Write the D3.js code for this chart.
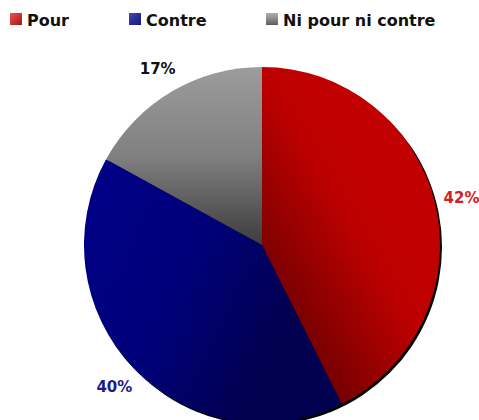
<!DOCTYPE html>
<meta charset="utf-8">
<script src="https://d3js.org/d3.v7.min.js"></script>
<style>
  body { margin: 0; background: #fff; }
  text { font-family: "DejaVu Sans", Verdana, sans-serif; font-weight: bold; }
</style>
<svg id="chart" width="479" height="420"></svg>
<script>
// data
const categories = ["Pour", "Contre", "Ni pour ni contre"];
const values = [42.6, 40.4, 17.0];
const labels = ["42%", "40%", "17%"];
const labelColors = ["#d42020", "#1c1c8a", "#111111"];

const svg = d3.select("#chart"),
  cx = 262, cy = 245, radius = 178;

const defs = svg.append("defs");

// gradients: light -> dark
const grads = [
  { id: "gPour", x1: "90%", y1: "10%", x2: "20%", y2: "90%", stops: ["#c80000", "#c00000", "#6a0000"] },
  { id: "gContre", x1: "0%", y1: "20%", x2: "80%", y2: "60%", stops: ["#000088", "#00007c", "#000050"] },
  { id: "gNi", x1: "0%", y1: "0%", x2: "0%", y2: "100%", stops: ["#9c9c9c", "#808080", "#3c3c3c"] },
  // legend swatches
  { id: "sPour", x1: "0%", y1: "0%", x2: "100%", y2: "100%", stops: ["#e05a5a", "#cc3333", "#a01818"] },
  { id: "sContre", x1: "0%", y1: "0%", x2: "100%", y2: "100%", stops: ["#4a4ab0", "#2c2c98", "#1a1a78"] },
  { id: "sNi", x1: "0%", y1: "0%", x2: "0%", y2: "100%", stops: ["#b0b0b0", "#8a8a8a", "#5a5a5a"] }
];
grads.forEach(g => {
  const lg = defs.append("linearGradient").attr("id", g.id)
    .attr("x1", g.x1).attr("y1", g.y1).attr("x2", g.x2).attr("y2", g.y2);
  g.stops.forEach((c, i) => lg.append("stop").attr("offset", (i * 50) + "%").attr("stop-color", c));
});

// fine diagonal hatching
const pat = defs.append("pattern").attr("id", "hatch")
  .attr("width", 4).attr("height", 4).attr("patternUnits", "userSpaceOnUse")
  .attr("patternTransform", "rotate(-30)");
pat.append("line").attr("x1", 0).attr("y1", 0).attr("x2", 0).attr("y2", 4)
  .attr("stroke", "#000").attr("stroke-width", 1).attr("stroke-opacity", 0.12);

const fills = ["url(#gPour)", "url(#gContre)", "url(#gNi)"];
const swatches = ["url(#sPour)", "url(#sContre)", "url(#sNi)"];
const hatched = [true, true, false];

// legend
const legendX = [10, 129, 266];
const legend = svg.append("g");
categories.forEach((c, i) => {
  legend.append("rect").attr("x", legendX[i]).attr("y", 13)
    .attr("width", 12).attr("height", 12).attr("fill", swatches[i]);
  legend.append("text").attr("x", legendX[i] + 17).attr("y", 26)
    .attr("font-size", 16).attr("fill", "#111").text(c);
});

const pie = d3.pie().sort(null).value(d => d);
const arcs = pie(values);
const arc = d3.arc().innerRadius(0).outerRadius(radius);
const labelArc = d3.arc().innerRadius(205).outerRadius(205);

const g = svg.append("g").attr("transform", `translate(${cx},${cy})`);

// shadow
g.append("circle").attr("cx", 2).attr("cy", 2).attr("r", radius).attr("fill", "#000");

g.selectAll("path.slice").data(arcs).enter().append("path")
  .attr("class", "slice")
  .attr("d", arc)
  .attr("fill", (d, i) => fills[i]);

g.selectAll("path.hatch").data(arcs.filter((d, i) => hatched[i])).enter().append("path")
  .attr("class", "hatch")
  .attr("d", arc)
  .attr("fill", "url(#hatch)");

g.selectAll("text.lbl").data(arcs).enter().append("text")
  .attr("class", "lbl")
  .attr("transform", d => `translate(${labelArc.centroid(d)})`)
  .attr("text-anchor", "middle")
  .attr("dominant-baseline", "central")
  .attr("font-size", 15)
  .attr("fill", (d, i) => labelColors[i])
  .text((d, i) => labels[i]);
</script>
